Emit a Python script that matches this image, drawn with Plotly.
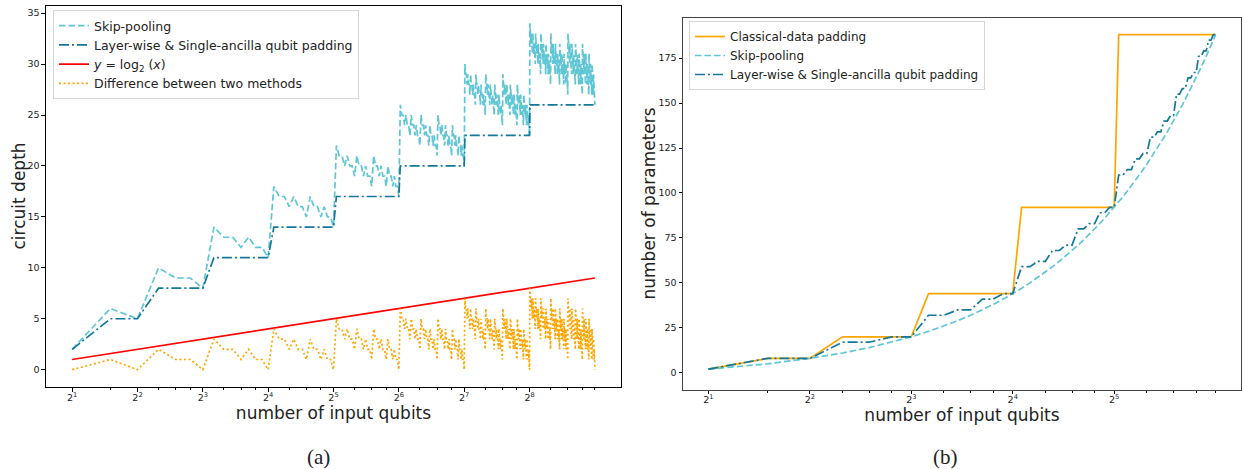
import numpy as np
import plotly.graph_objects as go

# ---------------- data: panel (a) circuit depth ----------------
qubits_a = list(range(2, 513))  # number of input qubits 2 .. 512

skip_depth = [
    2,
    6, 5,
    10, 9, 9, 8,
    14, 13, 13, 12, 13, 12, 12, 11,
    18, 17, 17, 16, 17, 16, 16, 15, 17, 16, 16, 15, 16, 15, 15, 14,
    22, 21, 21, 20, 21, 20, 20, 19, 21, 20, 20, 19, 20, 19, 19, 18,
    21, 20, 20, 19, 20, 19, 19, 18, 20, 19, 19, 18, 19, 18, 18, 17,
    26, 25, 25, 24, 25, 24, 24, 23, 25, 24, 24, 23, 24, 23, 23, 22,
    25, 24, 24, 23, 24, 23, 23, 22, 24, 23, 23, 22, 23, 22, 22, 21,
    25, 24, 24, 23, 24, 23, 23, 22, 24, 23, 23, 22, 23, 22, 22, 21,
    24, 23, 23, 22, 23, 22, 22, 21, 23, 22, 22, 21, 22, 21, 21, 20,
    30, 29, 29, 28, 29, 28, 28, 27, 29, 28, 28, 27, 28, 27, 27, 26,
    29, 28, 28, 27, 28, 27, 27, 26, 28, 27, 27, 26, 27, 26, 26, 25,
    29, 28, 28, 27, 28, 27, 27, 26, 28, 27, 27, 26, 27, 26, 26, 25,
    28, 27, 27, 26, 27, 26, 26, 25, 27, 26, 26, 25, 26, 25, 25, 24,
    29, 28, 28, 27, 28, 27, 27, 26, 28, 27, 27, 26, 27, 26, 26, 25,
    28, 27, 27, 26, 27, 26, 26, 25, 27, 26, 26, 25, 26, 25, 25, 24,
    28, 27, 27, 26, 27, 26, 26, 25, 27, 26, 26, 25, 26, 25, 25, 24,
    27, 26, 26, 25, 26, 25, 25, 24, 26, 25, 25, 24, 25, 24, 24, 23,
    34, 33, 33, 32, 33, 32, 32, 31, 33, 32, 32, 31, 32, 31, 31, 30,
    33, 32, 32, 31, 32, 31, 31, 30, 32, 31, 31, 30, 31, 30, 30, 29,
    33, 32, 32, 31, 32, 31, 31, 30, 32, 31, 31, 30, 31, 30, 30, 29,
    32, 31, 31, 30, 31, 30, 30, 29, 31, 30, 30, 29, 30, 29, 29, 28,
    33, 32, 32, 31, 32, 31, 31, 30, 32, 31, 31, 30, 31, 30, 30, 29,
    32, 31, 31, 30, 31, 30, 30, 29, 31, 30, 30, 29, 30, 29, 29, 28,
    32, 31, 31, 30, 31, 30, 30, 29, 31, 30, 30, 29, 30, 29, 29, 28,
    31, 30, 30, 29, 30, 29, 29, 28, 30, 29, 29, 28, 29, 28, 28, 27,
    33, 32, 32, 31, 32, 31, 31, 30, 32, 31, 31, 30, 31, 30, 30, 29,
    32, 31, 31, 30, 31, 30, 30, 29, 31, 30, 30, 29, 30, 29, 29, 28,
    32, 31, 31, 30, 31, 30, 30, 29, 31, 30, 30, 29, 30, 29, 29, 28,
    31, 30, 30, 29, 30, 29, 29, 28, 30, 29, 29, 28, 29, 28, 28, 27,
    32, 31, 31, 30, 31, 30, 30, 29, 31, 30, 30, 29, 30, 29, 29, 28,
    31, 30, 30, 29, 30, 29, 29, 28, 30, 29, 29, 28, 29, 28, 28, 27,
    31, 30, 30, 29, 30, 29, 29, 28, 30, 29, 29, 28, 29, 28, 28, 27,
    30, 29, 29, 28, 29, 28, 28, 27, 29, 28, 28, 27, 28, 27, 27, 26,
]

layer_depth = ([2] + [5] * 2 + [8] * 4 + [11] * 8 + [14] * 16 + [17] * 32
               + [20] * 64 + [23] * 128 + [26] * 256)

assert len(skip_depth) == len(qubits_a) == len(layer_depth)

log2_line = np.log2(qubits_a)
depth_diff = np.array(skip_depth) - np.array(layer_depth)

ticks_a = [2, 4, 8, 16, 32, 64, 128, 256]
ticklabels_a = ["2<sup>%d</sup>" % k for k in range(1, 9)]
minor_a = [3, 5, 6, 7, 10, 12, 14, 20, 24, 28, 40, 48, 56, 80, 96, 112,
           160, 192, 224, 320, 384, 448, 512]

# ---------------- data: panel (b) number of parameters ----------------
qubits_b = list(range(2, 65))
classical_params = [2] + [8] * 2 + [20] * 4 + [44] * 8 + [92] * 16 + [188] * 32
skip_params = [2, 5, 8, 11, 14, 17, 20, 23, 26, 29, 32, 35, 38, 41, 44, 47,
               50, 53, 56, 59, 62, 65, 68, 71, 74, 77, 80, 83, 86, 89, 92, 95,
               98, 101, 104, 107, 110, 113, 116, 119, 122, 125, 128, 131, 134,
               137, 140, 143, 146, 149, 152, 155, 158, 161, 164, 167, 170, 173,
               176, 179, 182, 185, 188]
layer_params = [2, 8, 8, 17, 17, 20, 20, 32, 32, 35, 35, 41, 41, 44, 44,
                59, 59, 62, 62, 68, 68, 71, 71, 80, 80, 83, 83, 89, 89, 92, 92,
                110, 110, 113, 113, 119, 119, 122, 122, 131, 131, 134, 134,
                140, 140, 143, 143, 155, 155, 158, 158, 164, 164, 167, 167,
                176, 176, 179, 179, 185, 185, 188, 188]
assert len(classical_params) == len(skip_params) == len(layer_params) == len(qubits_b)

ticks_b = [2, 4, 8, 16, 32]
ticklabels_b = ["2<sup>%d</sup>" % k for k in range(1, 6)]
minor_b = [3, 5, 6, 7, 10, 12, 14, 20, 24, 28, 40, 48, 56, 64]

# ---------------- styling ----------------
W, H = 1244, 469
C_SKIP = "#5ec6d4"
C_LAYER = "#14789a"
C_RED = "#ff0000"
C_ORANGE = "#ffa500"
LW = 1.7
FONT = "DejaVu Sans"

fig = go.Figure()

fig.add_trace(go.Scatter(x=qubits_a, y=skip_depth, mode="lines", name="Skip-pooling",
                         line=dict(color=C_SKIP, width=LW, dash="6.5px,3px"),
                         xaxis="x", yaxis="y", legend="legend"))
fig.add_trace(go.Scatter(x=qubits_a, y=layer_depth, mode="lines",
                         name="Layer-wise &amp; Single-ancilla qubit padding",
                         line=dict(color=C_LAYER, width=LW, dash="10px,3px,2px,3px"),
                         xaxis="x", yaxis="y", legend="legend"))
fig.add_trace(go.Scatter(x=qubits_a, y=log2_line, mode="lines",
                         name="<i>y</i> = log<sub>2</sub> (<i>x</i>)",
                         line=dict(color=C_RED, width=LW),
                         xaxis="x", yaxis="y", legend="legend"))
fig.add_trace(go.Scatter(x=qubits_a, y=depth_diff, mode="lines",
                         name="Difference between two methods",
                         line=dict(color=C_ORANGE, width=LW, dash="2px,2.5px"),
                         xaxis="x", yaxis="y", legend="legend"))

fig.add_trace(go.Scatter(x=qubits_b, y=classical_params, mode="lines",
                         name="Classical-data padding",
                         line=dict(color=C_ORANGE, width=LW),
                         xaxis="x2", yaxis="y2", legend="legend2"))
fig.add_trace(go.Scatter(x=qubits_b, y=skip_params, mode="lines", name="Skip-pooling",
                         line=dict(color=C_SKIP, width=LW, dash="6.5px,3px"),
                         xaxis="x2", yaxis="y2", legend="legend2"))
fig.add_trace(go.Scatter(x=qubits_b, y=layer_params, mode="lines",
                         name="Layer-wise &amp; Single-ancilla qubit padding",
                         line=dict(color=C_LAYER, width=LW, dash="10px,3px,2px,3px"),
                         xaxis="x2", yaxis="y2", legend="legend2"))

l2 = np.log10(2)
axis_common = dict(showgrid=False, zeroline=False, showline=True, mirror=True,
                   ticks="outside", ticklen=3.5, tickwidth=0.8, tickcolor="black",
                   tickfont=dict(family=FONT, size=9.5, color="#222"))
title_font = dict(family=FONT, size=17, color="#222")

fig.update_layout(
    width=W, height=H, autosize=False,
    margin=dict(l=0, r=0, t=0, b=0),
    paper_bgcolor="white", plot_bgcolor="white",
    font=dict(family=FONT, color="#222"),
    showlegend=True,
    xaxis=dict(type="log", range=[l2 * 0.6, l2 * 9.4],
               domain=[46 / W, 621 / W], anchor="y",
               tickmode="array", tickvals=ticks_a, ticktext=ticklabels_a,
               ticklabelstandoff=-2,
               minor=dict(tickmode="array", tickvals=minor_a, ticks="outside",
                          ticklen=2, tickcolor="black", tickwidth=0.6),
               linecolor="black", linewidth=1.1,
               title=dict(text="number of input qubits", standoff=1, font=title_font),
               **axis_common),
    yaxis=dict(range=[-1.7, 35.7], domain=[1 - 387 / H, 1 - 6 / H], anchor="x",
               tickmode="array", tickvals=[0, 5, 10, 15, 20, 25, 30, 35],
               linecolor="black", linewidth=1.1,
               **axis_common),
    xaxis2=dict(type="log", range=[l2 * 0.75, l2 * 6.25],
                domain=[683 / W, 1241 / W], anchor="y2",
                tickmode="array", tickvals=ticks_b, ticktext=ticklabels_b,
                ticklabelstandoff=-2,
                minor=dict(tickmode="array", tickvals=minor_b, ticks="outside",
                           ticklen=2, tickcolor="black", tickwidth=0.6),
                linecolor="#444", linewidth=1,
                title=dict(text="number of input qubits", standoff=1, font=title_font),
                **axis_common),
    yaxis2=dict(range=[-9.3, 197.3], domain=[1 - 389.5 / H, 1 - 18 / H], anchor="x2",
                tickmode="array", tickvals=[0, 25, 50, 75, 100, 125, 150, 175],
                linecolor="#444", linewidth=1,
                **axis_common),
    legend=dict(x=53 / W, y=1 - 10 / H, xanchor="left", yanchor="top",
                bgcolor="rgba(255,255,255,0.85)", bordercolor="#d6d6d6", borderwidth=1,
                font=dict(family=FONT, size=12.5, color="#222"), tracegroupgap=0,
                itemwidth=30),
    legend2=dict(x=689 / W, y=1 - 21 / H, xanchor="left", yanchor="top",
                 bgcolor="rgba(255,255,255,0.85)", bordercolor="#d6d6d6", borderwidth=1,
                 font=dict(family=FONT, size=12, color="#222"), tracegroupgap=0,
                 itemwidth=30),
    annotations=[
        dict(text="circuit depth", x=19 / W, y=1 - 196.5 / H, xref="paper", yref="paper",
             xanchor="center", yanchor="middle", textangle=-90,
             showarrow=False, font=title_font),
        dict(text="number of parameters", x=648 / W, y=1 - 203.5 / H,
             xref="paper", yref="paper", xanchor="center", yanchor="middle",
             textangle=-90, showarrow=False, font=title_font),
        dict(text="(a)", x=318 / W, y=1 - 457 / H, xref="paper", yref="paper",
             xanchor="center", yanchor="middle",
             showarrow=False, font=dict(family="Liberation Serif", size=21, color="#222")),
        dict(text="(b)", x=945 / W, y=1 - 457 / H, xref="paper", yref="paper",
             xanchor="center", yanchor="middle",
             showarrow=False, font=dict(family="Liberation Serif", size=21, color="#222")),
    ],
)

fig.write_html("out.html", config={"displayModeBar": False},
               post_script="document.body.style.margin='0';document.body.style.padding='0';")
